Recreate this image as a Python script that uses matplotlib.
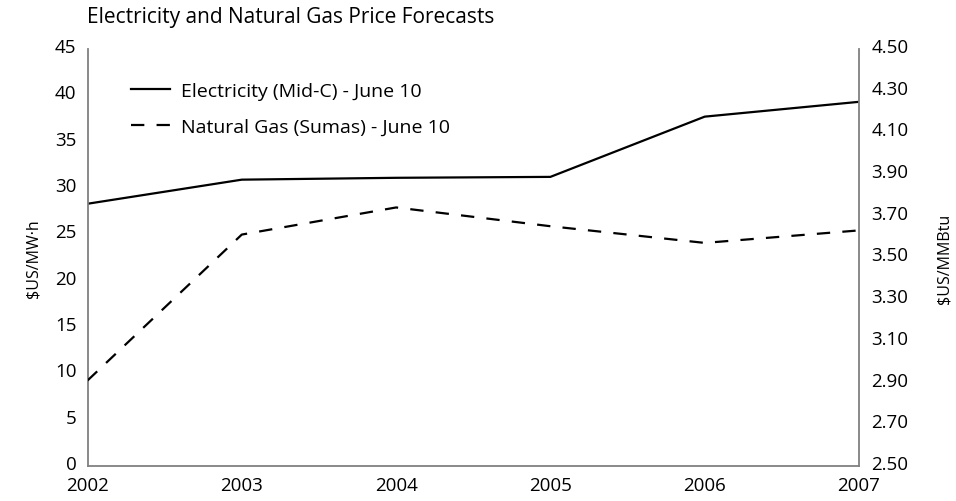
import matplotlib
matplotlib.use('Agg')
import matplotlib.pyplot as plt
from matplotlib.transforms import ScaledTranslation

plt.rcParams.update({
    'font.family': ['Open Sans', 'DejaVu Sans'],
    'font.size': 14,
})

years = [2002, 2003, 2004, 2005, 2006, 2007]
electricity = [28.3, 30.9, 31.1, 31.2, 37.7, 39.3]
natural_gas = [2.91, 3.61, 3.74, 3.65, 3.57, 3.63]

left_ticks = [0, 5, 10, 15, 20, 25, 30, 35, 40, 45]
right_ticks = [2.50, 2.70, 2.90, 3.10, 3.30, 3.50, 3.70, 3.90, 4.10, 4.30, 4.50]

SPINE = '#808080'

fig = plt.figure(figsize=(9.56, 5.02), dpi=100)
ax = fig.add_axes([87.5 / 956, 1 - 467 / 502, (859 - 87.5) / 956, 417 / 502])
ax2 = ax.twinx()

l1, = ax.plot(years, electricity, color='black', linewidth=1.6,
              label='Electricity (Mid-C) - June 10')
l2, = ax2.plot(years, natural_gas, color='black', linewidth=1.6,
               linestyle=(0, (6, 5.5)), label='Natural Gas (Sumas) - June 10')

ax.set_xlim(2002, 2007)
ax.set_ylim(0, 45)
ax2.set_ylim(2.5, 4.5)
ax.set_xticks(years)
ax.set_yticks(left_ticks)
ax2.set_yticks(right_ticks)
ax2.set_yticklabels([f'{v:.2f}' for v in right_ticks])

for a in (ax, ax2):
    a.spines['top'].set_visible(False)
    for s in ('left', 'right', 'bottom'):
        a.spines[s].set_color(SPINE)
        a.spines[s].set_linewidth(1.3)
    a.tick_params(length=0, labelsize=13.5)
ax.spines['right'].set_visible(False)
ax2.spines['left'].set_visible(False)
ax2.spines['bottom'].set_visible(False)
ax.tick_params(axis='y', pad=8)
ax.tick_params(axis='x', pad=7)
ax2.tick_params(axis='y', pad=9)

# tick labels in the original sit a few pixels above their gridline
shift = ScaledTranslation(0, 4 / 100, fig.dpi_scale_trans)
for lab in ax.get_yticklabels() + ax2.get_yticklabels():
    lab.set_transform(lab.get_transform() + shift)

ax.set_ylabel('$US/MW·h', fontsize=11.5, labelpad=10)
ax2.set_ylabel('$US/MMBtu', fontsize=11.5, labelpad=20, rotation=90)

ax.legend(handles=[l1, l2], loc='upper left', bbox_to_anchor=(0.057, 0.922),
          frameon=False, borderpad=0, borderaxespad=0, handlelength=2.0,
          handletextpad=0.55, labelspacing=0.95, fontsize=14)

fig.text(87 / 956, 1 - 18 / 502, 'Electricity and Natural Gas Price Forecasts',
         ha='left', va='center', fontsize=15)

fig.savefig('out.png', dpi=100)
